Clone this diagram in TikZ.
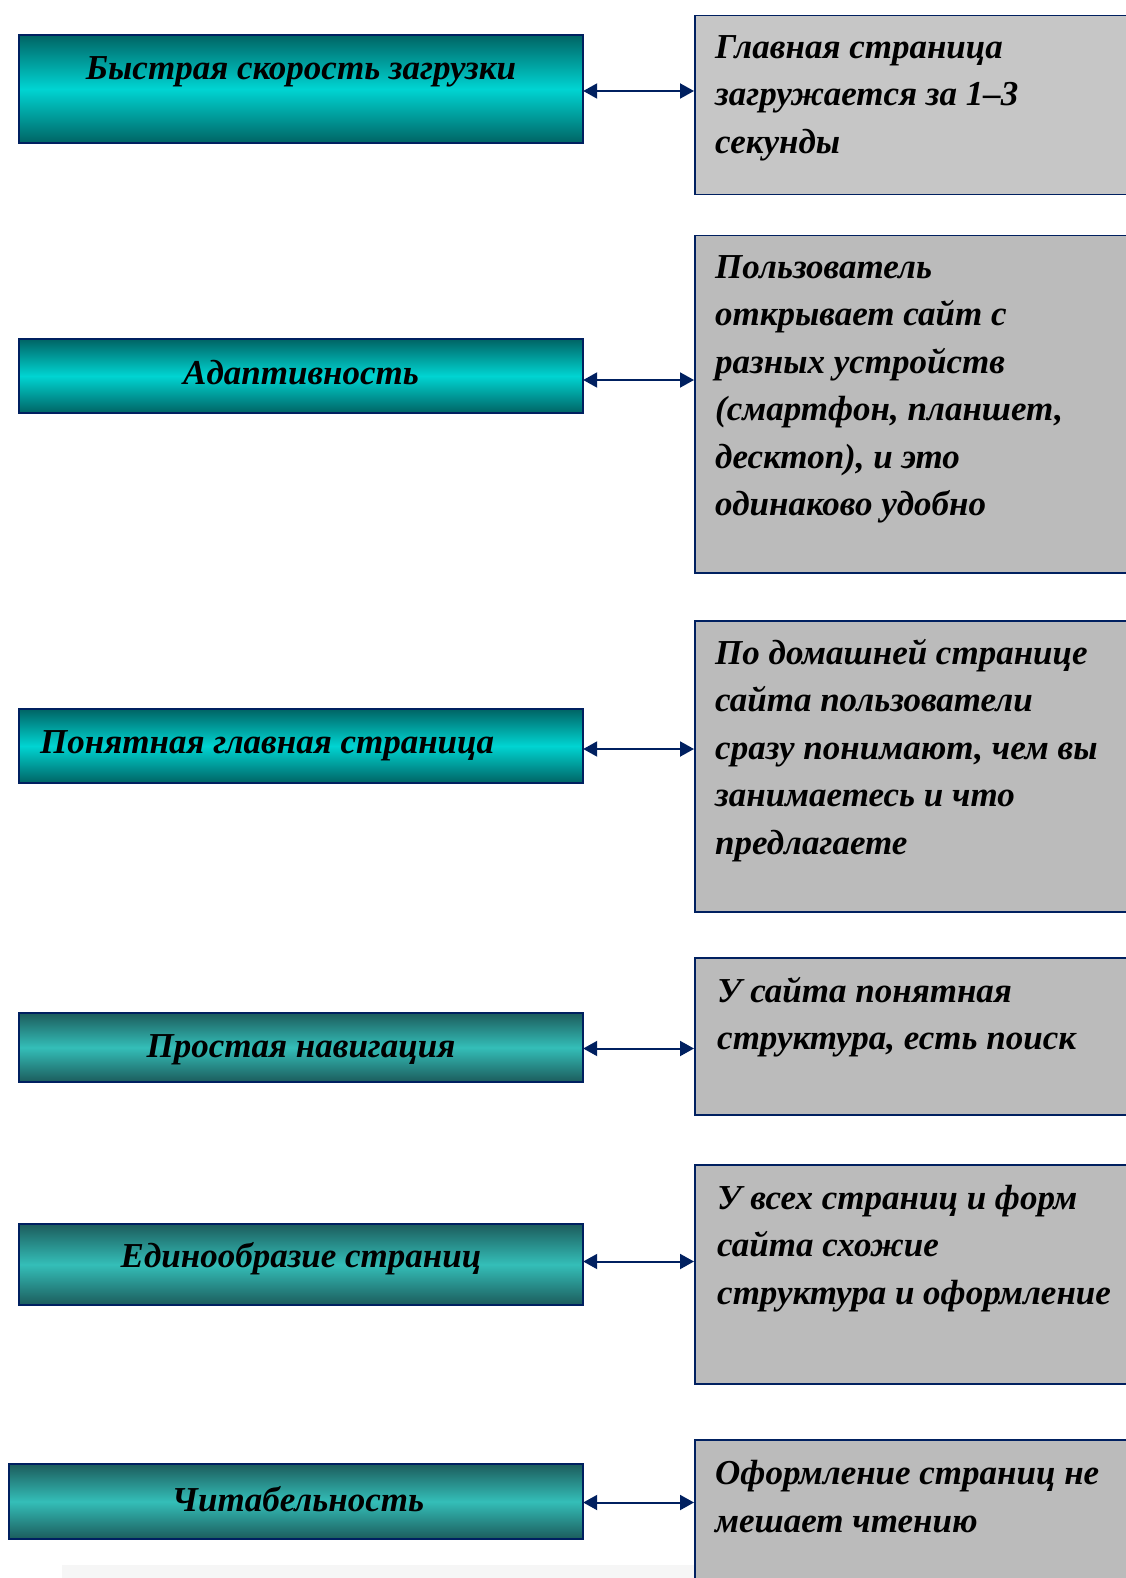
\documentclass[tikz,border=0pt]{standalone}
\usepackage{fontspec}
\setmainfont{Liberation Serif}
\usetikzlibrary{arrows.meta}
\definecolor{navy}{RGB}{0,32,96}
\definecolor{tealdark}{RGB}{0,100,100}
\definecolor{tealbright}{RGB}{0,212,210}
\definecolor{tealdarkB}{RGB}{28,92,92}
\definecolor{tealmid}{RGB}{52,190,184}
\definecolor{boxgray}{RGB}{198,198,198}
\definecolor{boxgrayB}{RGB}{187,187,187}
\tikzset{
  lboxA/.style={draw=navy, line width=1.5pt, rectangle, inner sep=0pt,
    top color=tealdark, bottom color=tealdark, middle color=tealbright},
  lboxB/.style={draw=navy, line width=1.5pt, rectangle, inner sep=0pt,
    top color=tealdarkB, bottom color=tealdarkB, middle color=tealmid},
  rbox/.style={draw=navy, line width=1.5pt, rectangle, inner sep=0pt, fill=boxgrayB},
  ltext/.style={inner sep=0pt, font=\fontsize{35}{47.5}\selectfont\bfseries\itshape},
  rtext/.style={inner sep=0pt, anchor=north west, align=left,
    font=\fontsize{35}{47.5}\selectfont\bfseries\itshape},
  link/.style={draw=navy, line width=2pt, {Triangle[length=14pt,width=15pt]}-{Triangle[length=14pt,width=15pt]}}
}
\begin{document}
\begin{tikzpicture}[x=1pt,y=-1pt]
\useasboundingbox (0,0) rectangle (1125,1578);
% faint bottom strip
\fill[gray!7] (62,1565) rectangle (694,1578);
% left boxes
\path[lboxA] (19,35) rectangle (583,143);
\node[minimum width=564pt, minimum height=108pt, inner sep=0pt] (l1) at (301,89) {};
\path[lboxA] (19,339) rectangle (583,413);
\node[minimum width=564pt, minimum height=74pt, inner sep=0pt] (l2) at (301,376) {};
\path[lboxA] (19,709) rectangle (583,783);
\node[minimum width=564pt, minimum height=74pt, inner sep=0pt] (l3) at (301,746) {};
\path[lboxB] (19,1013) rectangle (583,1082);
\node[minimum width=564pt, minimum height=69pt, inner sep=0pt] (l4) at (301,1047.5) {};
\path[lboxB] (19,1224) rectangle (583,1305);
\node[minimum width=564pt, minimum height=81pt, inner sep=0pt] (l5) at (301,1264.5) {};
\path[lboxB] (9,1464) rectangle (583,1539);
\node[minimum width=574pt, minimum height=75pt, inner sep=0pt] (l6) at (296,1501.5) {};
% left texts
\node[ltext] (lt1) at (301,72) {Быстрая скорость загрузки};
\node[ltext] (lt2) at (301,373) {Адаптивность};
\node[ltext, anchor=west] (lt3) at (40,746) {Понятная главная страница};
\node[ltext] (lt4) at (301,1050) {Простая навигация};
\node[ltext] (lt5) at (301,1259) {Единообразие страниц};
\node[ltext] (lt6) at (298,1499) {Читабельность};
% right boxes
\node[rbox, fill=boxgray, anchor=north west, minimum width=446pt, minimum height=179pt] (r1) at (694,15) {};
\node[rbox, anchor=north west, minimum width=446pt, minimum height=337pt] (r2) at (694,235) {};
\node[rbox, anchor=north west, minimum width=446pt, minimum height=291pt] (r3) at (694,620) {};
\node[rbox, anchor=north west, minimum width=446pt, minimum height=157pt] (r4) at (694,957) {};
\node[rbox, anchor=north west, minimum width=446pt, minimum height=219pt] (r5) at (694,1164) {};
\node[rbox, anchor=north west, minimum width=446pt, minimum height=160pt] (r6) at (694,1439) {};
% right texts
\node[rtext] (rt1) at ([xshift=21pt,yshift=-20pt]r1.north west) {Главная страница\\загружается за 1–3\\секунды};
\node[rtext] (rt2) at ([xshift=21pt,yshift=-20pt]r2.north west) {Пользователь\\открывает сайт с\\разных устройств\\(смартфон, планшет,\\десктоп), и это\\одинаково удобно};
\node[rtext] (rt3) at ([xshift=21pt,yshift=-19pt]r3.north west) {По домашней странице\\сайта пользователи\\сразу понимают, чем вы\\занимаетесь и что\\предлагаете};
\node[rtext] (rt4) at ([xshift=23pt,yshift=-20pt]r4.north west) {У сайта понятная\\структура, есть поиск};
\node[rtext] (rt5) at ([xshift=23pt,yshift=-21pt]r5.north west) {У всех страниц и форм\\сайта схожие\\структура и оформление};
\node[rtext] (rt6) at ([xshift=21pt,yshift=-21pt]r6.north west) {Оформление страниц не\\мешает чтению};
% connectors
\foreach \i/\s in {1/2,2/4,3/3,4/1,5/-3,6/1}{
  \draw[link] ([yshift=-\s pt]l\i.east) -- ([yshift=-\s pt]l\i.east -| r\i.west);
}
\end{tikzpicture}
\end{document}
